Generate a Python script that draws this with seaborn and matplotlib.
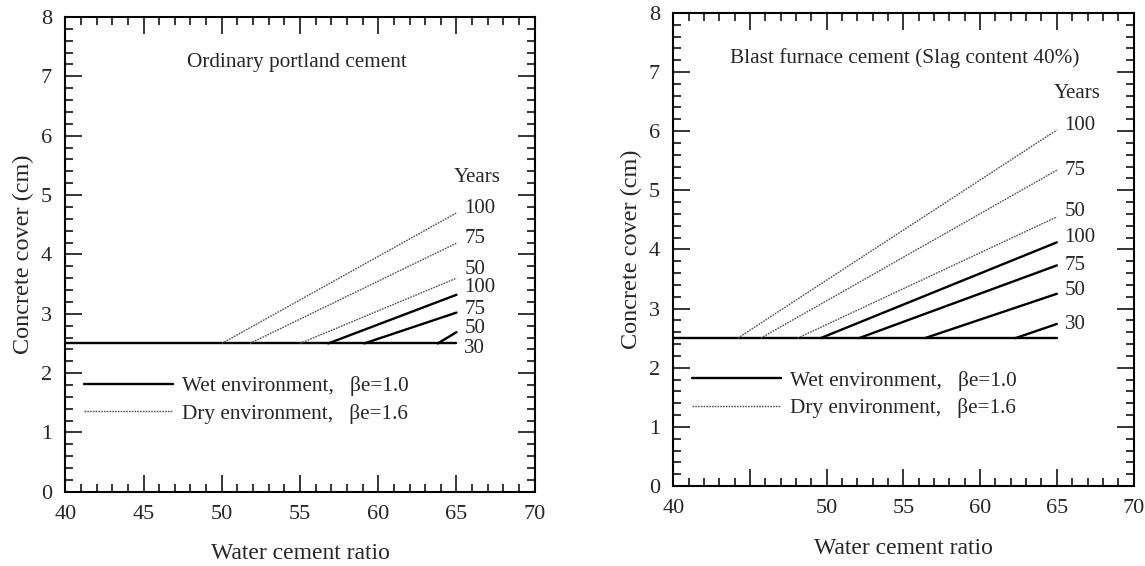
import matplotlib
matplotlib.use('Agg')
import matplotlib.pyplot as plt
from matplotlib.lines import Line2D
from matplotlib.ticker import MultipleLocator
import seaborn as sns
import pandas as pd

# Datos
years = [100, 75, 50]
wet_years = [100, 75, 50, 30]
base_cover = 2.5
wc_min, wc_max = 40, 65

# Cemento portland ordinario
opc_dry_start = [50.0, 51.8, 55.0]
opc_dry_end = [4.70, 4.19, 3.60]
opc_wet_start = [56.8, 59.1, 63.8, 65.0]
opc_wet_end = [3.32, 3.02, 2.69, 2.5]
opc_label_y = [4.78, 4.26, 3.75, 3.44, 3.08, 2.75, 2.41]
opc_years_y = 5.3

# Cemento de alto horno (escoria 40%)
bfc_dry_start = [44.2, 45.7, 48.1]
bfc_dry_end = [6.02, 5.34, 4.55]
bfc_wet_start = [49.6, 52.1, 56.4, 62.3]
bfc_wet_end = [4.12, 3.73, 3.25, 2.74]
bfc_label_y = [6.09, 5.34, 4.64, 4.21, 3.73, 3.30, 2.73]
bfc_years_y = 6.64

titles = ['Ordinary portland cement', 'Blast furnace cement (Slag content 40%)']
title_x = [54.8, 55.1]
legend_labels = ['Wet environment,   \u03b2e=1.0', 'Dry environment,   \u03b2e=1.6']

sns.set_style('ticks')
plt.rcParams['font.family'] = ['Liberation Serif', 'DejaVu Serif']

dry_kw = dict(color='#505050', lw=1.0, linestyle=(0, (1.2, 0.8)))
wet_kw = dict(color='black', lw=1.7, linestyle='-')


def make_df(starts, ends, kind, yrs):
    rows = []
    for s, e, y in zip(starts, ends, yrs):
        rows.append({'wc': s, 'cover': base_cover, 'serie': f'{kind}{y}'})
        rows.append({'wc': wc_max, 'cover': e, 'serie': f'{kind}{y}'})
    return pd.DataFrame(rows)


def draw_panel(ax, dry_s, dry_e, wet_s, wet_e, lab_y, years_y, title, tx):
    # linea base (recubrimiento mínimo)
    sns.lineplot(x=[wc_min, wc_max], y=[base_cover, base_cover], ax=ax, **wet_kw)
    dfd = make_df(dry_s, dry_e, 'dry', years)
    dfw = make_df(wet_s, wet_e, 'wet', wet_years)
    for name, g in dfd.groupby('serie', sort=False):
        sns.lineplot(data=g, x='wc', y='cover', ax=ax, estimator=None, sort=False, **dry_kw)
    for name, g in dfw.groupby('serie', sort=False):
        sns.lineplot(data=g, x='wc', y='cover', ax=ax, estimator=None, sort=False, **wet_kw)

    labels = [str(y) for y in years] + [str(y) for y in wet_years]
    for txt, y in zip(labels, lab_y):
        ax.text(65.5, y, txt, fontsize=15, va='center', ha='left')
    ax.text(66.35, years_y, 'Years', fontsize=15, va='center', ha='center')
    ax.text(tx, 7.24, title, fontsize=15.3, va='center', ha='center')

    handles = [Line2D([], [], **wet_kw), Line2D([], [], **dry_kw)]
    ax.legend(handles, legend_labels, loc='upper left', bbox_to_anchor=(41.2, 1.95),
              bbox_transform=ax.transData, frameon=False, fontsize=15.3,
              handlelength=4.2, handletextpad=0.43, labelspacing=0.36,
              borderpad=0, borderaxespad=0)

    ax.set_xlim(40, 70)
    ax.set_ylim(0, 8)
    ax.xaxis.set_major_locator(MultipleLocator(5))
    ax.xaxis.set_minor_locator(MultipleLocator(1))
    ax.yaxis.set_major_locator(MultipleLocator(1))
    ax.yaxis.set_minor_locator(MultipleLocator(0.2))
    ax.tick_params(which='both', direction='in', top=True, right=True,
                   labelsize=16, pad=9.5, color='black')
    ax.tick_params(which='major', length=12, width=1.1)
    ax.tick_params(which='minor', length=6, width=1.1)
    for sp in ax.spines.values():
        sp.set_linewidth(1.5)
        sp.set_color('black')
    ax.set_xlabel('Water cement ratio', fontsize=17, labelpad=14)
    ax.set_ylabel('Concrete cover (cm)', fontsize=17.5, labelpad=5)


fig = plt.figure(figsize=(11.45, 5.66), dpi=100)
ax1 = fig.add_axes([0.057, 0.131, 0.41, 0.839])
ax2 = fig.add_axes([0.588, 0.1413, 0.402, 0.836])

draw_panel(ax1, opc_dry_start, opc_dry_end, opc_wet_start, opc_wet_end,
           opc_label_y, opc_years_y, titles[0], title_x[0])
draw_panel(ax2, bfc_dry_start, bfc_dry_end, bfc_wet_start, bfc_wet_end,
           bfc_label_y, bfc_years_y, titles[1], title_x[1])
# el panel derecho no rotula el 45
ax2.set_xticks([40, 45, 50, 55, 60, 65, 70])
ax2.set_xticklabels(['40', '', '50', '55', '60', '65', '70'])

fig.savefig('out.png', dpi=100)
